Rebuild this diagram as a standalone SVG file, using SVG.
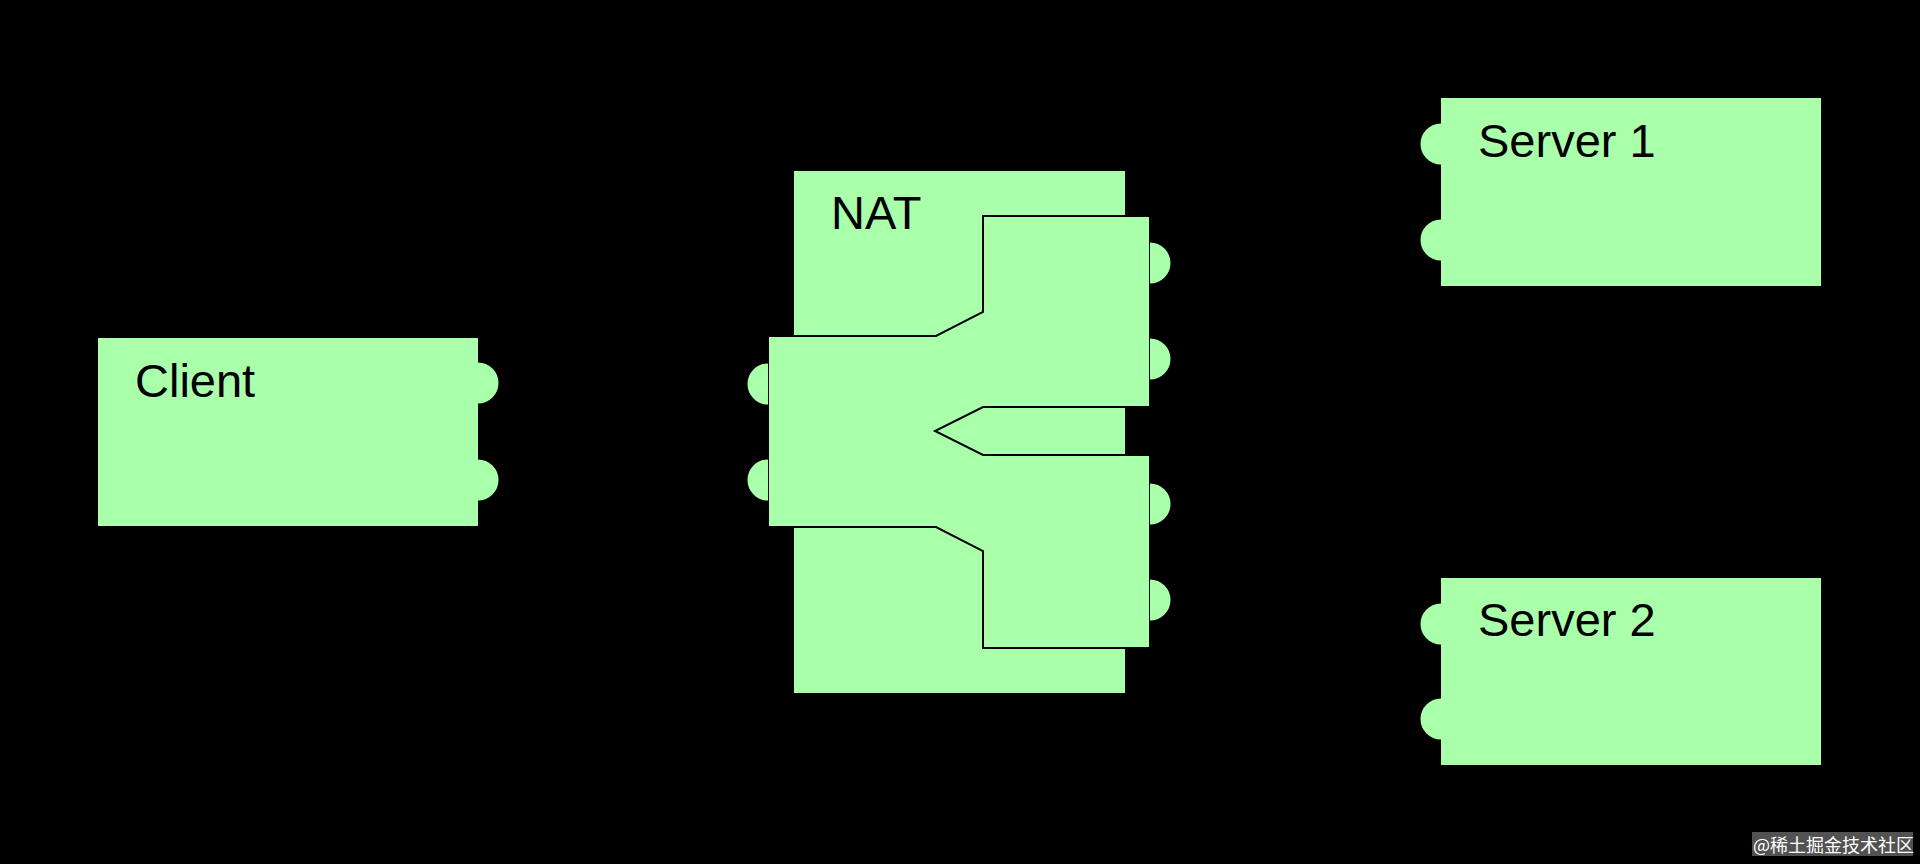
<svg xmlns="http://www.w3.org/2000/svg" width="1920" height="864" viewBox="0 0 1920 864">
  <style>
    .box { fill: #aaffaa; stroke: none; }
    .inner { fill: #aaffaa; stroke: #000; stroke-width: 2; stroke-linejoin: miter; }
    .port { fill: #aaffaa; stroke: #000; stroke-width: 3; }
    .label { font-family: "Liberation Sans", Arial, sans-serif; font-size: 47px; fill: #000; }
    .wm { font-family: "Noto Sans CJK SC", "Liberation Sans", sans-serif; font-size: 18px; fill: #fff; }
  </style>
  <rect x="0" y="0" width="1920" height="864" fill="#000"/>

  <g id="client">
    <rect class="box" x="98" y="338" width="380" height="188"/>
    <text class="label" x="135" y="397">Client</text>
    <path class="port" d="M478,361 A22,22 0 0 1 478,405"/>
    <path class="port" d="M478,458 A22,22 0 0 1 478,502"/>
  </g>

  <g id="nat">
    <rect class="box" x="794" y="171" width="331" height="522"/>
    <text class="label" x="831" y="229">NAT</text>
    <path class="inner" d="M768,336 L936,336 L983,312 L983,216 L1150,216 L1150,407 L983,407 L935,431 L983,455 L1150,455 L1150,648 L983,648 L983,551 L936,527 L768,527 Z"/>
    <path class="port" d="M768,362 A22,22 0 0 0 768,406"/>
    <path class="port" d="M768,458 A22,22 0 0 0 768,502"/>
    <path class="port" d="M1150,241 A22,22 0 0 1 1150,285"/>
    <path class="port" d="M1150,337 A22,22 0 0 1 1150,381"/>
    <path class="port" d="M1150,482 A22,22 0 0 1 1150,526"/>
    <path class="port" d="M1150,578 A22,22 0 0 1 1150,622"/>
  </g>

  <g id="server1">
    <rect class="box" x="1441" y="98" width="380" height="188"/>
    <text class="label" x="1478" y="157">Server 1</text>
    <path class="port" d="M1441,122 A22,22 0 0 0 1441,166"/>
    <path class="port" d="M1441,218 A22,22 0 0 0 1441,262"/>
  </g>

  <g id="server2">
    <rect class="box" x="1441" y="578" width="380" height="187"/>
    <text class="label" x="1478" y="636">Server 2</text>
    <path class="port" d="M1441,602 A22,22 0 0 0 1441,646"/>
    <path class="port" d="M1441,697 A22,22 0 0 0 1441,741"/>
  </g>

  <g id="connectors"></g>

  <g id="watermark">
    <rect x="1752" y="832" width="161" height="24" fill="#888" opacity="0.6"/>
    <text class="wm" x="1753" y="852">@稀土掘金技术社区</text>
  </g>
</svg>
